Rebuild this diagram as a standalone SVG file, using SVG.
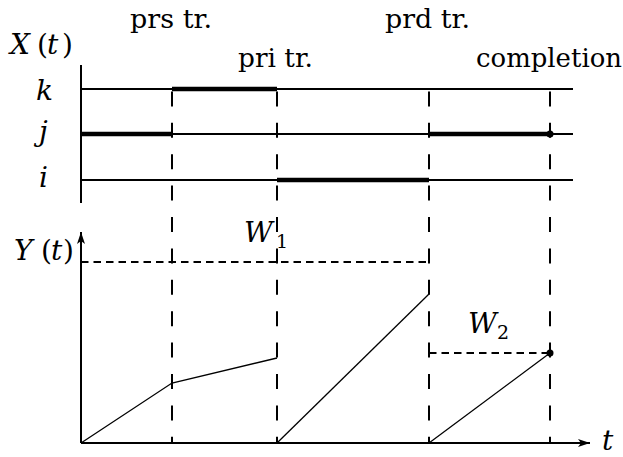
<svg xmlns="http://www.w3.org/2000/svg" width="623" height="457" viewBox="0 0 623 457">
<style>
.txt{font-family:'DejaVu Serif',serif;font-size:26px;fill:#000}
.m{font-size:28px}
.it{font-style:italic}
.ax{stroke:#000;stroke-width:2;fill:none}
.thin{stroke:#000;stroke-width:2;fill:none}
.thick{stroke:#000;stroke-width:4.5;fill:none}
.vd{stroke:#000;stroke-width:2;fill:none;stroke-dasharray:15 16.4;stroke-dashoffset:29}
.hd{stroke:#000;stroke-width:2;fill:none;stroke-dasharray:7.5 5}
.cv{stroke:#000;stroke-width:1.3;fill:none}
</style>
<defs>
<marker id="arr" viewBox="0 0 12 8" refX="12" refY="4" markerWidth="12" markerHeight="8" markerUnits="userSpaceOnUse" orient="auto">
<path d="M0,0 L12,4 L0,8 L3,4 Z" fill="#000"/>
</marker>
</defs>
<g id="labels">
<text class="txt" x="130" y="28" textLength="82" lengthAdjust="spacingAndGlyphs">prs tr.</text>
<text class="txt" x="238" y="67" textLength="75" lengthAdjust="spacingAndGlyphs">pri tr.</text>
<text class="txt" x="385" y="28" textLength="85" lengthAdjust="spacingAndGlyphs">prd tr.</text>
<text class="txt" x="476" y="67" textLength="146" lengthAdjust="spacingAndGlyphs">completion</text>
<text class="txt m" y="54"><tspan class="it" x="10">X</tspan><tspan x="37">(</tspan><tspan class="it" x="47">t</tspan><tspan x="62">)</tspan></text>
<text class="txt m it" x="36" y="100">k</text>
<text class="txt m it" x="39" y="141">j</text>
<text class="txt m it" x="39" y="187">i</text>
<text class="txt m" y="260"><tspan class="it" x="14">Y</tspan><tspan x="41">(</tspan><tspan class="it" x="51">t</tspan><tspan x="63">)</tspan></text>
<text class="txt m"><tspan class="it" x="244" y="242">W</tspan><tspan x="276" y="248" font-size="19">1</tspan></text>
<text class="txt m"><tspan class="it" x="468" y="333">W</tspan><tspan x="497" y="339" font-size="19">2</tspan></text>
<text class="txt m it" x="602" y="450">t</text>
</g>
<g id="connectors">
<line class="ax" x1="81" y1="65" x2="81" y2="203"/>
<line class="thin" x1="81" y1="89" x2="573" y2="89"/>
<line class="thin" x1="81" y1="134" x2="573" y2="134"/>
<line class="thin" x1="81" y1="180" x2="573" y2="180"/>
<line class="thick" x1="172" y1="89" x2="277" y2="89"/>
<line class="thick" x1="81" y1="134" x2="172" y2="134"/>
<line class="thick" x1="429" y1="134" x2="550" y2="134"/>
<line class="thick" x1="277" y1="180" x2="429" y2="180"/>
<line class="vd" x1="172" y1="89" x2="172" y2="443"/>
<line class="vd" x1="277" y1="89" x2="277" y2="443"/>
<line class="vd" x1="429" y1="89" x2="429" y2="443"/>
<line class="vd" x1="550" y1="89" x2="550" y2="443"/>
<line class="ax" x1="81" y1="443" x2="81" y2="232" marker-end="url(#arr)"/>
<line class="ax" x1="81" y1="443" x2="590" y2="443" marker-end="url(#arr)"/>
<line class="hd" x1="81" y1="262" x2="429" y2="262"/>
<line class="hd" x1="429" y1="353" x2="550" y2="353"/>
<polyline class="cv" points="81,443 172,383 277,358"/>
<line class="cv" x1="277" y1="443" x2="429" y2="294"/>
<line class="cv" x1="429" y1="443" x2="550" y2="353"/>
<circle cx="550" cy="134" r="3.5" fill="#000"/>
<circle cx="550" cy="353" r="3.5" fill="#000"/>
</g>
</svg>
